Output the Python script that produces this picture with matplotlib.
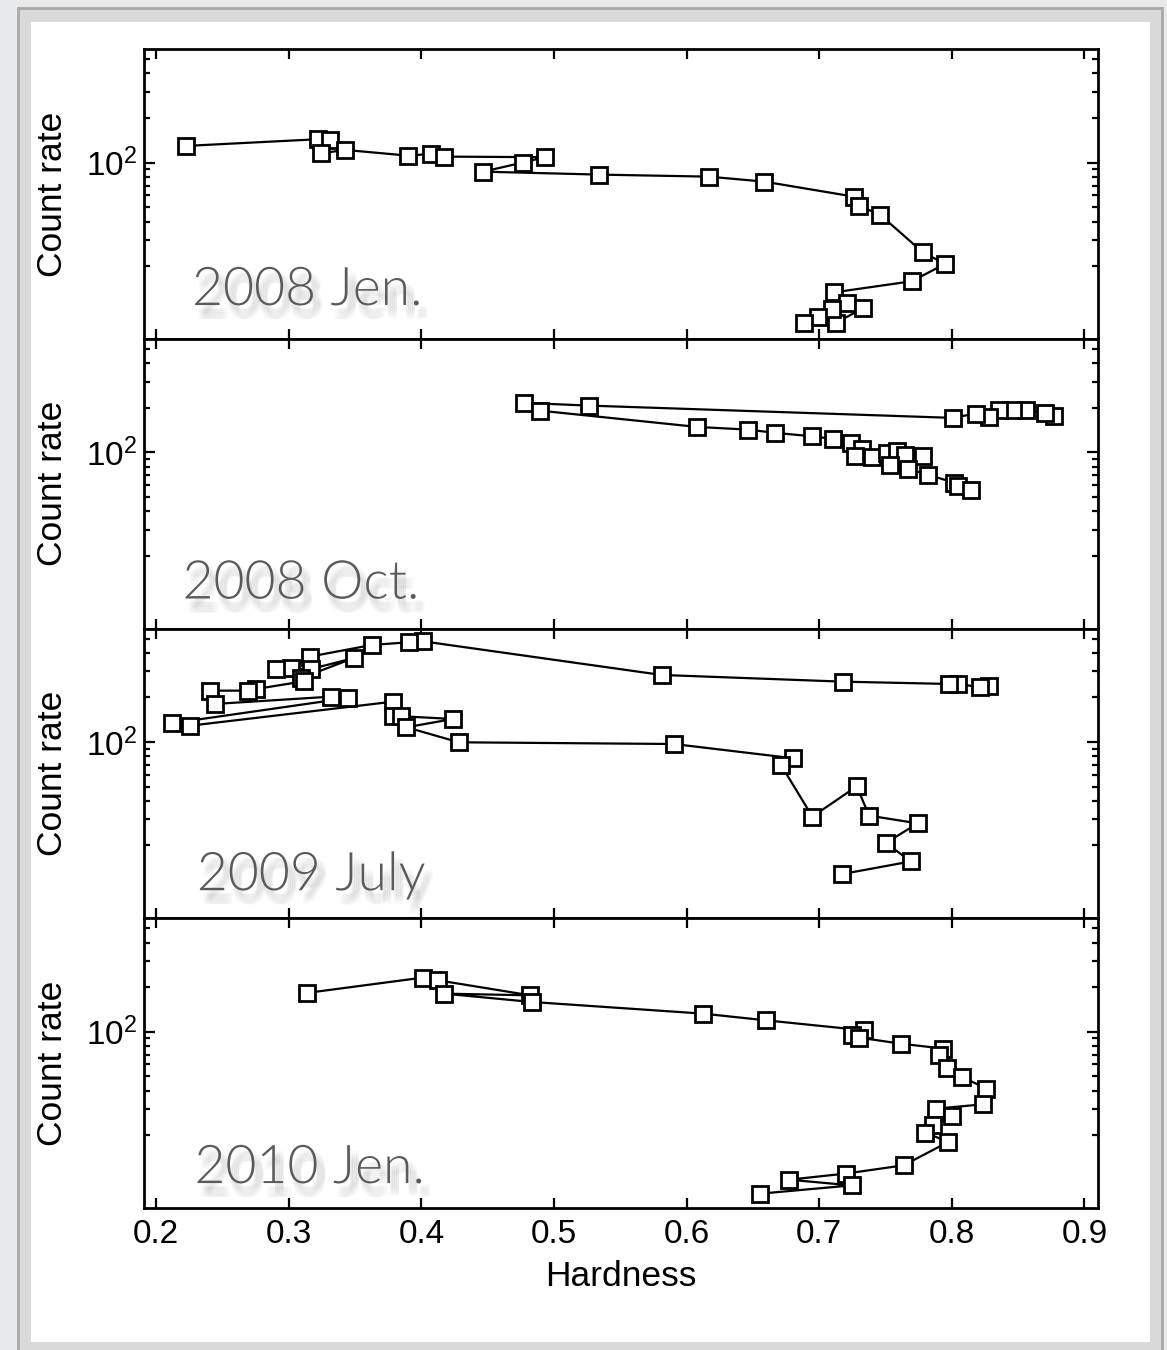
import matplotlib
matplotlib.use("Agg")
import matplotlib.pyplot as plt
import matplotlib.patheffects as pe
from matplotlib.patches import Rectangle
from matplotlib.ticker import FixedLocator, NullFormatter, FuncFormatter

plt.rcParams["font.family"] = ["Liberation Sans", "DejaVu Sans"]
plt.rcParams["mathtext.default"] = "regular"

# Hardness-intensity tracks for four observing epochs
labels = ["2008 Jen.", "2008 Oct.", "2009 July", "2010 Jen."]

hard_2008jan = [0.2226, 0.3220, 0.3313, 0.3245, 0.3426, 0.3899, 0.4070, 0.4171,
                0.4931, 0.4762, 0.4465, 0.5340, 0.6168, 0.6586, 0.7263, 0.7303,
                0.7461, 0.7781, 0.7949, 0.7698, 0.7114, 0.7208, 0.7333, 0.7127,
                0.7099, 0.6989, 0.6885]
rate_2008jan = [129.7, 143.9, 142.3, 115.7, 121.8, 111.5, 114.5, 109.8,
                108.8, 100.0, 86.9, 83.0, 80.4, 74.4, 58.9, 51.0,
                44.3, 24.8, 20.7, 15.8, 13.3, 11.2, 10.4, 8.3,
                10.2, 9.1, 8.2]

hard_2008oct = [0.8772, 0.8699, 0.8561, 0.8459, 0.8357, 0.8283, 0.8181, 0.8006,
                0.5261, 0.4771, 0.4891, 0.6079, 0.6463, 0.6670, 0.6947, 0.7104,
                0.7243, 0.7326, 0.7266, 0.7401, 0.7512, 0.7586, 0.7650, 0.7780,
                0.7534, 0.7673, 0.7821, 0.8020, 0.8043, 0.8144]
rate_2008oct = [175.1, 184.6, 192.2, 192.2, 194.3, 173.5, 182.6, 170.8,
                206.8, 215.7, 191.3, 148.4, 142.3, 135.2, 128.3, 123.2,
                115.7, 105.9, 95.0, 93.1, 99.1, 101.6, 96.5, 94.0,
                82.6, 77.2, 70.7, 62.1, 59.6, 56.0]

hard_2009jul = [0.8281, 0.8214, 0.8050, 0.7982, 0.7182, 0.5811, 0.4008, 0.3906,
                0.3627, 0.3157, 0.3019, 0.2900, 0.3170, 0.3491, 0.3089, 0.3114,
                0.2755, 0.2691, 0.2408, 0.2440, 0.3315, 0.3446, 0.2118, 0.2257,
                0.3786, 0.3786, 0.3849, 0.4238, 0.3887, 0.4282, 0.5902, 0.6805,
                0.6712, 0.6948, 0.7283, 0.7376, 0.7743, 0.7502, 0.7691, 0.7170]
rate_2009jul = [237.1, 234.2, 246.5, 246.5, 255.5, 283.6, 479.0, 471.6,
                452.3, 377.0, 316.2, 311.3, 311.3, 369.4, 269.4, 257.1,
                228.1, 222.2, 222.2, 180.6, 202.3, 198.3, 133.8, 128.9,
                187.2, 149.2, 149.2, 143.0, 125.7, 99.5, 96.9, 77.6,
                69.9, 31.3, 50.2, 31.8, 28.2, 20.8, 15.6, 12.8]

hard_2010jan = [0.3135, 0.4009, 0.4125, 0.4822, 0.4171, 0.4831, 0.6125, 0.6601,
                0.7340, 0.7248, 0.7303, 0.7613, 0.7937, 0.7904, 0.7964, 0.8080,
                0.8260, 0.8236, 0.7882, 0.8005, 0.7858, 0.7798, 0.7974, 0.7636,
                0.7201, 0.6772, 0.7244, 0.6550]
rate_2010jan = [182.6, 231.7, 222.2, 175.9, 180.6, 158.7, 132.3, 119.2,
                102.0, 94.4, 91.1, 83.0, 76.8, 69.2, 57.1, 49.4,
                41.2, 32.3, 30.2, 26.9, 23.3, 20.8, 18.0, 12.5,
                11.0, 10.0, 9.15, 8.04]

hardness = [hard_2008jan, hard_2008oct, hard_2009jul, hard_2010jan]
rates = [rate_2008jan, rate_2008oct, rate_2009jul, rate_2010jan]

xticks = [0.2, 0.3, 0.4, 0.5, 0.6, 0.7, 0.8, 0.9]
y_major = [100]
y_minor = [20, 30, 40, 50, 60, 70, 80, 90, 200, 300, 400, 500]

fig = plt.figure(figsize=(11.67, 13.5), dpi=100)
fig.patch.set_facecolor("#e8e9eb")

# slide-style card behind the plot
fig.patches.append(Rectangle((0.0154, -0.02), 0.9803, 1.0141, transform=fig.transFigure,
                             facecolor="#d9d9d9", edgecolor="#a9a9a9", lw=2.0, zorder=-3))
fig.patches.append(Rectangle((0.0266, 0.0059), 0.9589, 0.9778, transform=fig.transFigure,
                             facecolor="white", edgecolor="none", zorder=-2))

left, right, bottom, top = 0.1237, 0.9406, 0.1052, 0.9635
h = (top - bottom) / 4
axes = []
for i in range(4):
    ax = fig.add_axes([left, top - (i + 1) * h, right - left, h])
    axes.append(ax)

label_pos = [(0.050, 0.117), (0.040, 0.104), (0.055, 0.097), (0.0525, 0.086)]

# soft drop shadow built from many faint offset copies
offsets = []
for dx in (2, 3.5, 5, 6.5):
    for dy in (-4, -5.5, -7, -8.5, -10):
        offsets.append((dx, dy))
shadow = [pe.SimplePatchShadow(offset=o, shadow_rgbFace="black", alpha=0.014)
          for o in offsets]

for i, ax in enumerate(axes):
    ax.plot(hardness[i], rates[i], color="black", lw=1.6, marker="s", ms=11,
            mfc="white", mec="black", mew=2.0, zorder=3)
    ax.set_yscale("log")
    ax.set_xlim(0.191, 0.910)
    ax.set_ylim(6.44, 583)
    ax.yaxis.set_major_locator(FixedLocator(y_major))
    ax.yaxis.set_minor_locator(FixedLocator(y_minor))
    ax.yaxis.set_minor_formatter(NullFormatter())
    ax.yaxis.set_major_formatter(FuncFormatter(lambda v, p: r"$10^{2}$"))
    ax.set_xticks(xticks)
    ax.tick_params(axis="both", which="both", direction="in", top=True, right=True,
                   width=1.6, labelsize=24)
    ax.tick_params(axis="x", which="major", length=7, pad=8)
    ax.tick_params(axis="y", which="major", length=8, pad=5)
    ax.tick_params(axis="y", which="minor", length=4.5)
    for sp in ax.spines.values():
        sp.set_linewidth(2.0)
    ax.set_ylabel("Count rate", fontsize=25.5)
    ax.yaxis.set_label_coords(-0.079, 0.5)
    if i < 3:
        ax.tick_params(axis="x", labelbottom=False)
    t = ax.text(label_pos[i][0], label_pos[i][1], labels[i], transform=ax.transAxes,
                fontsize=38.5, color="#5a5a5a", family=["Lato", "DejaVu Sans"],
                fontweight=300, ha="left", va="baseline", zorder=2)
    t.set_path_effects(shadow + [pe.Normal()])

axes[-1].set_xlabel("Hardness", fontsize=25.5, labelpad=7)

fig.savefig("out.png", dpi=100, facecolor=fig.get_facecolor())
